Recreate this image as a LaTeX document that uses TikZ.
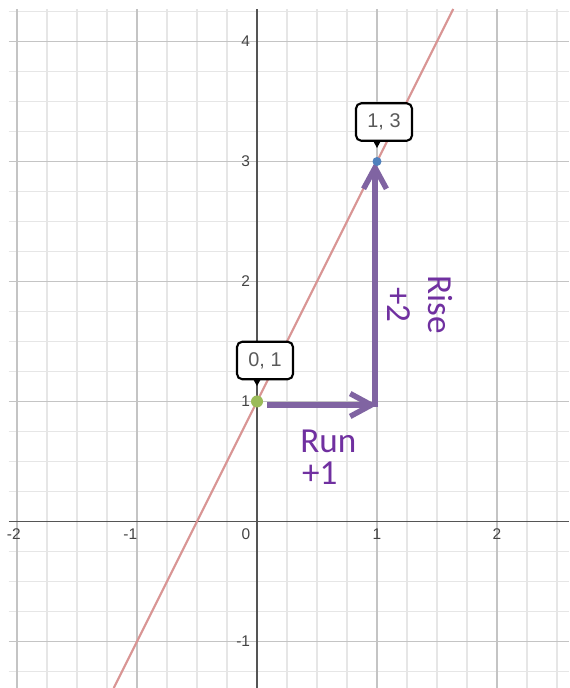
\documentclass[tikz,border=0pt]{standalone}
\usepackage{fontspec}
\setmainfont{Liberation Sans}
\newfontfamily\calib{Carlito}
\usetikzlibrary{arrows.meta}
\definecolor{gridminor}{HTML}{E6E6E6}
\definecolor{gridmajor}{HTML}{C4C4C4}
\definecolor{axiscol}{HTML}{555555}
\definecolor{linecol}{HTML}{D99594}
\definecolor{arrowcol}{HTML}{8064A2}
\definecolor{textpurple}{HTML}{7030A0}
\definecolor{ptgreen}{HTML}{9BBB59}
\definecolor{ptblue}{HTML}{4F81BD}
\definecolor{labelgray}{HTML}{444444}
\begin{document}
\begin{tikzpicture}[x=2.4cm,y=2.4cm,
  minorgrid/.style={draw=gridminor,line width=0.6pt},
  majorgrid/.style={draw=gridmajor,line width=0.6pt},
  axisline/.style={draw=axiscol,line width=1.1pt},
  ticklabel/.style={font=\fontsize{8.8}{10}\selectfont,text=labelgray,inner sep=0pt},
  callout/.style={draw=black,line width=1.2pt,fill=white,rounded corners=3pt,minimum width=1.12cm,minimum height=0.75cm,inner sep=0pt,font=\fontsize{11.3}{13}\selectfont,text=black!65},
  pointer/.style={fill=black,draw=none},
  slopearrow/.style={draw=arrowcol,line width=3.1pt,-{Straight Barb[length=12pt,width=13pt]}},
  ptdot/.style={circle,inner sep=0pt,draw=none},
  purpletext/.style={font=\calib\fontsize{20}{17.9}\selectfont,text=textpurple,inner sep=0pt},
]
\useasboundingbox (-2.1417,-1.3875) rectangle (2.6,4.3458);
\fill[white] (-2.1417,-1.3875) rectangle (2.6,4.3458);
\begin{scope}
\clip (-2.0667,-1.3875) rectangle (2.6,4.2708);
\draw[minorgrid] (-2.0667,-1.3875) grid[step=0.25] (2.6,4.2708);
\draw[majorgrid] (-2.0667,-1.3875) grid[step=1] (2.6,4.2708);
\draw[axisline] (-2.0667,0) -- (2.6,0);
\draw[axisline] (0,-1.3875) -- (0,4.2708);
\coordinate (lbot) at (-1.19375,-1.3875);
\coordinate (ltop) at (1.6354,4.2708);
\draw[linecol,line width=1.2pt] (lbot) -- (ltop);
\end{scope}
% tick labels
\node[ticklabel,anchor=east] (xm2) at (-1.9667,-0.1042) {-2};
\node[ticklabel,anchor=east] (xm1) at (-0.9958,-0.1042) {-1};
\node[ticklabel] (x0) at (-0.0917,-0.1042) {0};
\node[ticklabel] (x1) at (1,-0.1042) {1};
\node[ticklabel] (x2) at (2,-0.1042) {2};
\node[ticklabel,anchor=east] (y4) at (-0.055,4) {4};
\node[ticklabel,anchor=east] (y3) at (-0.055,3) {3};
\node[ticklabel,anchor=east] (y2) at (-0.055,2) {2};
\node[ticklabel,anchor=east] (y1) at (-0.055,1) {1};
\node[ticklabel,anchor=east] (ym1) at (-0.055,-1) {-1};
% slope arrows
\coordinate (runstart) at (0.0833,0.9708);
\coordinate (corner) at (1.0,0.9708);
\coordinate (risebase) at (0.9833,0.954);
\coordinate (risetop) at (0.9833,2.9958);
\draw[slopearrow] (runstart) -- (corner);
\draw[slopearrow] (risebase) -- (risetop);
% points
\node[ptdot,fill=ptgreen,minimum size=0.24cm] (p01) at (0,1) {};
\node[ptdot,fill=ptblue,minimum size=0.18cm] (p13) at (1,3) {};
% callouts
\node[callout] (c01) at (0.0667,1.3417) {0, 1};
\node[callout] (c13) at (1.0583,3.329) {1, 3};
\fill[pointer] (-0.033,1.1875) -- (0.033,1.1875) -- (0,1.129) -- cycle;
\fill[pointer] (0.967,3.1735) -- (1.033,3.1735) -- (1,3.1125) -- cycle;
% texts
\node[purpletext,anchor=north west,align=left] (run) at (0.3583,0.7625) {Run\\\hspace*{1pt}+1};
\node[purpletext,anchor=base west,rotate=-90] (rise) at (1.425,2.054) {Rise};
\node[purpletext,anchor=base west,rotate=-90] (risev) at (1.0833,1.954) {+2};
\end{tikzpicture}
\end{document}
